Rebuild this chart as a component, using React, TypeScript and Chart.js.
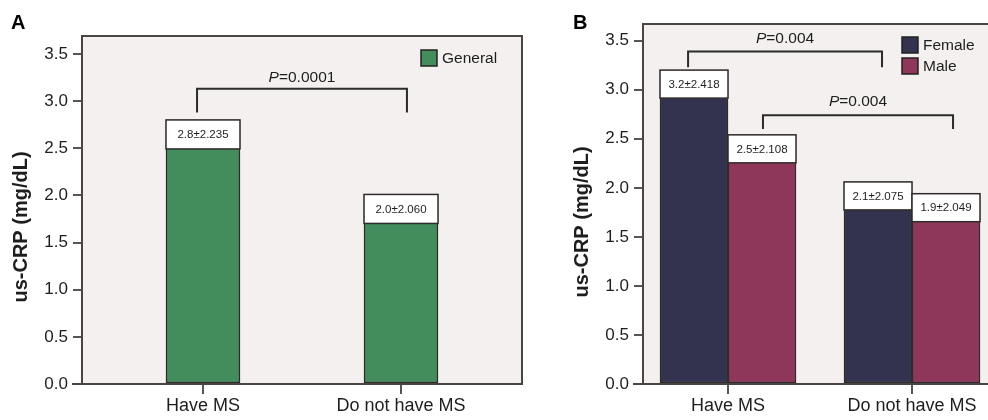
import React, { useEffect, useRef } from "react";
import { Chart, registerables } from "chart.js";

Chart.register(...registerables);

// ---------- data ----------
const categories = ["Have MS", "Do not have MS"];
const yTickValues = [0, 0.5, 1, 1.5, 2, 2.5, 3, 3.5];

const generalMeans = [2.8, 2.01];
const generalLabels = ["2.8±2.235", "2.0±2.060"];

const femaleMeans = [3.2, 2.06];
const femaleLabels = ["3.2±2.418", "2.1±2.075"];
const maleMeans = [2.54, 1.94];
const maleLabels = ["2.5±2.108", "1.9±2.049"];

const pValueA = "0.0001";
const pValueB1 = "0.004";
const pValueB2 = "0.004";

// ---------- styles ----------
const FONT = '"Liberation Sans", Arial, Helvetica, sans-serif';
const INK = "#1e1e1e";
const FRAME = "#4a4543";
const BAR_BORDER = "#2f2b2b";
const PLOT_BG = "#f4f0ef";
const GREEN = "#438c5b";
const NAVY = "#33334f";
const MAROON = "#8f375a";

type Bracket = { x0: number; x1: number; y: number; leg: number; textY: number; value: string };

const panelPlugin = {
  id: "panel",
  beforeDraw(chart: any) {
    const { ctx, chartArea: a } = chart;
    ctx.save();
    ctx.fillStyle = PLOT_BG;
    ctx.fillRect(a.left, a.top, a.right - a.left, a.bottom - a.top);
    ctx.restore();
  },
  afterDatasetsDraw(chart: any, _args: any, opts: any) {
    const { ctx } = chart;
    const boxH = opts.boxHeight || 28;
    ctx.save();
    chart.data.datasets.forEach((ds: any, di: number) => {
      const meta = chart.getDatasetMeta(di);
      meta.data.forEach((el: any, i: number) => {
        const { x, y, width } = el.getProps(["x", "y", "width"], true);
        const left = x - width / 2;
        ctx.fillStyle = "#ffffff";
        ctx.fillRect(left, y, width, boxH);
        ctx.strokeStyle = BAR_BORDER;
        ctx.lineWidth = 1.5;
        ctx.strokeRect(left, y, width, boxH);
        ctx.fillStyle = INK;
        ctx.font = `11.5px ${FONT}`;
        ctx.textAlign = "center";
        ctx.textBaseline = "middle";
        ctx.fillText(ds.valueLabels[i], x, y + boxH / 2 + 0.5);
      });
    });
    ctx.restore();
  },
  afterDraw(chart: any, _args: any, opts: any) {
    const { ctx, chartArea: a, scales } = chart;
    const xs = scales.x;
    const ys = scales.y;
    ctx.save();
    // frame
    ctx.strokeStyle = FRAME;
    ctx.lineWidth = 2;
    ctx.beginPath();
    ctx.moveTo(a.left, a.bottom);
    ctx.lineTo(a.left, a.top);
    ctx.lineTo(a.right + (opts.drawRight ? 0 : 2), a.top);
    if (opts.drawRight) ctx.lineTo(a.right, a.bottom);
    ctx.stroke();
    ctx.beginPath();
    ctx.moveTo(a.left - 10, a.bottom);
    ctx.lineTo(a.right + (opts.drawRight ? 1 : 2), a.bottom);
    ctx.stroke();

    // brackets
    (opts.brackets as Bracket[]).forEach((b) => {
      const px0 = xs.getPixelForValue(b.x0);
      const px1 = xs.getPixelForValue(b.x1);
      const py = ys.getPixelForValue(b.y);
      const pl = ys.getPixelForValue(b.leg);
      ctx.strokeStyle = "#2b2b2b";
      ctx.lineWidth = 2;
      ctx.beginPath();
      ctx.moveTo(px0, pl);
      ctx.lineTo(px0, py);
      ctx.lineTo(px1, py);
      ctx.lineTo(px1, pl);
      ctx.stroke();
      const ty = ys.getPixelForValue(b.textY);
      const pFont = `italic 15.5px ${FONT}`;
      const rFont = `15.5px ${FONT}`;
      const rest = "=" + b.value;
      ctx.font = pFont;
      const wP = ctx.measureText("P").width;
      ctx.font = rFont;
      const wR = ctx.measureText(rest).width;
      const cx = (px0 + px1) / 2;
      const start = cx - (wP + wR) / 2;
      ctx.fillStyle = INK;
      ctx.textAlign = "left";
      ctx.textBaseline = "middle";
      ctx.font = pFont;
      ctx.fillText("P", start, ty);
      ctx.font = rFont;
      ctx.fillText(rest, start + wP, ty);
    });

    // legend
    const lg = opts.legend;
    chart.data.datasets.forEach((ds: any, i: number) => {
      const top = lg.y + i * lg.gap;
      ctx.fillStyle = ds.backgroundColor;
      ctx.fillRect(lg.x, top, 16, 16);
      ctx.strokeStyle = "#222";
      ctx.lineWidth = 1.5;
      ctx.strokeRect(lg.x, top, 16, 16);
      ctx.fillStyle = INK;
      ctx.font = `15.5px ${FONT}`;
      ctx.textAlign = "left";
      ctx.textBaseline = "middle";
      ctx.fillText(ds.label, lg.x + 21, top + 9);
    });

    // y title
    ctx.save();
    ctx.translate(opts.titleX, opts.titleY);
    ctx.rotate(-Math.PI / 2);
    ctx.fillStyle = INK;
    ctx.font = `bold 20px ${FONT}`;
    ctx.textAlign = "center";
    ctx.textBaseline = "middle";
    ctx.fillText("us-CRP (mg/dL)", 0, 0);
    ctx.restore();

    // panel letter
    ctx.fillStyle = "#000";
    ctx.font = `bold 20px ${FONT}`;
    ctx.textAlign = "left";
    ctx.textBaseline = "alphabetic";
    ctx.fillText(opts.letter, opts.letterX, 29);
    ctx.restore();
  },
};

function makeScales(xMin: number, xMax: number, yMax: number, yWidth: number) {
  return {
    x: {
      type: "linear" as const,
      min: xMin,
      max: xMax,
      offset: false,
      afterBuildTicks: (s: any) => {
        s.ticks = categories.map((_, i) => ({ value: i }));
      },
      afterFit: (s: any) => {
        s.height = 36;
      },
      ticks: {
        callback: (_v: any, i: number) => categories[i],
        font: { family: FONT, size: 18 },
        color: INK,
        padding: 1,
        maxRotation: 0,
        autoSkip: false,
      },
      grid: { offset: false, drawOnChartArea: false, tickLength: 10, color: "#555", lineWidth: 2 },
      border: { display: false },
    },
    y: {
      min: 0,
      max: yMax,
      afterBuildTicks: (s: any) => {
        s.ticks = yTickValues.map((v) => ({ value: v }));
      },
      afterFit: (s: any) => {
        s.width = yWidth;
      },
      ticks: {
        callback: (v: any) => Number(v).toFixed(1),
        font: { family: FONT, size: 17 },
        color: INK,
        padding: 5,
      },
      grid: { drawOnChartArea: false, tickLength: 9, color: "#555", lineWidth: 2 },
      border: { display: false },
    },
  };
}

function configA(): any {
  return {
    type: "bar",
    data: {
      datasets: [
        {
          label: "General",
          data: categories.map((_, i) => ({ x: i, y: generalMeans[i] })),
          valueLabels: generalLabels,
          backgroundColor: GREEN,
          borderColor: BAR_BORDER,
          borderWidth: 1.5,
          borderSkipped: false,
          barThickness: 74,
        },
      ],
    },
    options: {
      responsive: false,
      animation: false,
      layout: { padding: { top: 36, right: 8, bottom: 0, left: 0 } },
      scales: makeScales(-0.611, 1.611, 3.69, 82),
      plugins: {
        legend: { display: false },
        tooltip: { enabled: false },
        panel: {
          letter: "A",
          letterX: 11,
          titleX: 21,
          titleY: 227,
          drawRight: true,
          boxHeight: 29,
          legend: { x: 421, y: 50, gap: 22 },
          brackets: [
            { x0: -0.03, x1: 1.03, y: 3.13, leg: 2.88, textY: 3.25, value: pValueA },
          ] as Bracket[],
        },
      },
    },
    plugins: [panelPlugin],
  };
}

function configB(): any {
  return {
    type: "bar",
    data: {
      datasets: [
        {
          label: "Female",
          data: categories.map((_, i) => ({ x: i, y: femaleMeans[i] })),
          valueLabels: femaleLabels,
          backgroundColor: NAVY,
          borderColor: BAR_BORDER,
          borderWidth: 1.5,
          borderSkipped: false,
          barThickness: 68,
        },
        {
          label: "Male",
          data: categories.map((_, i) => ({ x: i, y: maleMeans[i] })),
          valueLabels: maleLabels,
          backgroundColor: MAROON,
          borderColor: BAR_BORDER,
          borderWidth: 1.5,
          borderSkipped: false,
          barThickness: 68,
        },
      ],
    },
    options: {
      responsive: false,
      animation: false,
      layout: { padding: { top: 24, right: 0, bottom: 0, left: 0 } },
      scales: makeScales(-0.462, 1.413, 3.67, 113),
      plugins: {
        legend: { display: false },
        tooltip: { enabled: false },
        panel: {
          letter: "B",
          letterX: 43,
          titleX: 52,
          titleY: 222,
          drawRight: false,
          boxHeight: 28,
          legend: { x: 372, y: 37, gap: 21 },
          brackets: [
            { x0: -0.217, x1: 0.837, y: 3.39, leg: 3.23, textY: 3.52, value: pValueB1 },
            { x0: 0.19, x1: 1.223, y: 2.74, leg: 2.6, textY: 2.88, value: pValueB2 },
          ] as Bracket[],
        },
      },
    },
    plugins: [panelPlugin],
  };
}

function PanelChart({ make, left, width }: { make: () => any; left: number; width: number }) {
  const ref = useRef<HTMLCanvasElement>(null);
  useEffect(() => {
    const chart = new Chart(ref.current as HTMLCanvasElement, make());
    return () => chart.destroy();
  }, [make]);
  return (
    <canvas
      ref={ref}
      width={width}
      height={420}
      style={{ position: "absolute", left, top: 0, width, height: 420, display: "block" }}
    />
  );
}

export default function App() {
  return (
    <div
      style={{
        position: "absolute",
        left: 0,
        top: 0,
        width: 988,
        height: 420,
        background: "#ffffff",
        overflow: "hidden",
      }}
    >
      <PanelChart make={configA} left={0} width={530} />
      <PanelChart make={configB} left={530} width={458} />
    </div>
  );
}
